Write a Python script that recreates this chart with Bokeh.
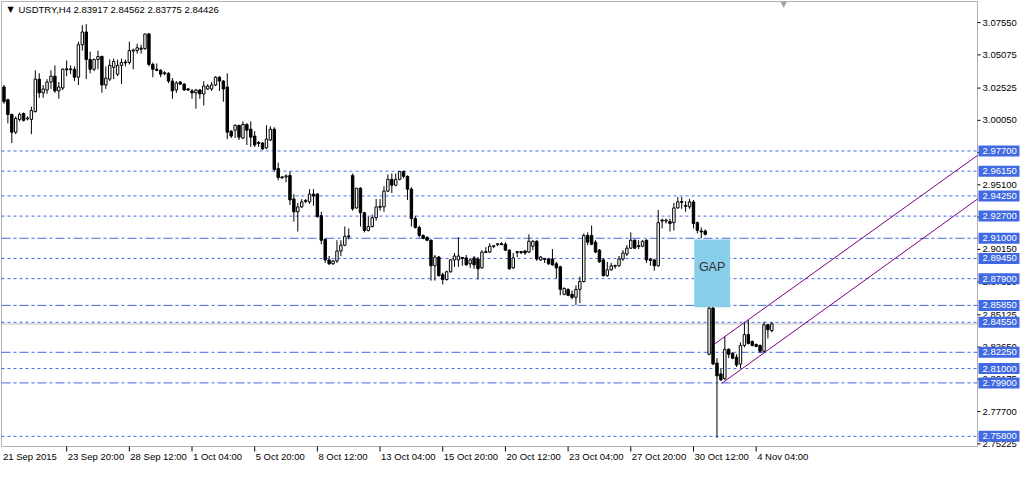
from bokeh.plotting import figure
from bokeh.models import Label, ColumnDataSource, Range1d, BoxAnnotation
from bokeh.core.properties import value
from bokeh.embed import file_html
from bokeh.resources import INLINE

# ---------------- data (USDTRY, H4) ----------------
opens = [3.0261, 3.0163, 3.0050, 2.9914, 3.0012, 3.0057, 3.0016, 3.0012, 3.0072, 3.0321,
         3.0216, 3.0238, 3.0299, 3.0344, 3.0231, 3.0253, 3.0400, 3.0393, 3.0397, 3.0336,
         3.0585, 3.0683, 3.0472, 3.0397, 3.0472, 3.0495, 3.0276, 3.0321, 3.0412, 3.0359,
         3.0427, 3.0453, 3.0449, 3.0536, 3.0540, 3.0559, 3.0555, 3.0668, 3.0434, 3.0397,
         3.0389, 3.0370, 3.0366, 3.0306, 3.0238, 3.0299, 3.0283, 3.0246, 3.0231, 3.0216,
         3.0238, 3.0208, 3.0246, 3.0246, 3.0276, 3.0336, 3.0306, 3.0261, 2.9922, 2.9929,
         2.9967, 2.9869, 2.9974, 2.9937, 2.9884, 2.9835, 2.9831, 2.9793, 2.9854, 2.9937,
         2.9635, 2.9571, 2.9571, 2.9582, 2.9401, 2.9303, 2.9341, 2.9382, 2.9379, 2.9439,
         2.9439, 2.9273, 2.9092, 2.8934, 2.8904, 2.8926, 2.9002, 2.9047, 2.9111, 2.9582,
         2.9333, 2.9484, 2.9296, 2.9160, 2.9190, 2.9258, 2.9337, 2.9341, 2.9462, 2.9552,
         2.9507, 2.9552, 2.9612, 2.9575, 2.9477, 2.9251, 2.9183, 2.9122, 2.9107, 2.9085,
         2.8889, 2.8956, 2.8821, 2.8783, 2.8843, 2.8934, 2.8934, 2.8953, 2.8949, 2.8904,
         2.8949, 2.8941, 2.8873, 2.8990, 2.8994, 2.9036, 2.9051, 2.9058, 2.9054, 2.9009,
         2.8873, 2.8990, 2.8998, 2.9002, 2.8994, 2.9039, 2.9077, 2.8934, 2.8945, 2.8941,
         2.8941, 2.8904, 2.8881, 2.8670, 2.8708, 2.8670, 2.8647, 2.8708, 2.8768, 2.9122,
         2.9122, 2.9070, 2.9009, 2.8934, 2.8813, 2.8858, 2.8885, 2.8889, 2.8941, 2.8979,
         2.9024, 2.9085, 2.9043, 2.9039, 2.9085, 2.8938, 2.8934, 2.8889, 2.9239, 2.9232,
         2.9228, 2.9220, 2.9333, 2.9382, 2.9352, 2.9341, 2.9379, 2.9220, 2.9156, 2.9156,
         2.8210, 2.8564, 2.8142, 2.8059, 2.8022, 2.8248, 2.8218, 2.8187, 2.8135, 2.8278,
         2.8361, 2.8308, 2.8285, 2.8278, 2.8233, 2.8436, 2.83917]
highs = [3.0276, 3.0170, 3.0057, 3.0035, 3.0065, 3.0065, 3.0035, 3.0110, 3.0389, 3.0366,
         3.0276, 3.0321, 3.0389, 3.0427, 3.0299, 3.0404, 3.0464, 3.0427, 3.0419, 3.0608,
         3.0736, 3.0743, 3.0532, 3.0479, 3.0540, 3.0502, 3.0419, 3.0472, 3.0479, 3.0472,
         3.0479, 3.0472, 3.0608, 3.0555, 3.0593, 3.0585, 3.0668, 3.0676, 3.0449, 3.0442,
         3.0397, 3.0382, 3.0374, 3.0329, 3.0306, 3.0306, 3.0291, 3.0253, 3.0246, 3.0246,
         3.0246, 3.0306, 3.0283, 3.0299, 3.0344, 3.0344, 3.0314, 3.0366, 2.9929, 2.9974,
         2.9967, 2.9997, 2.9982, 2.9997, 2.9922, 2.9846, 2.9839, 2.9967, 2.9959, 2.9952,
         2.9680, 2.9575, 2.9590, 2.9612, 2.9439, 2.9371, 2.9401, 2.9401, 2.9477, 2.9477,
         2.9447, 2.9303, 2.9100, 2.8964, 2.8934, 2.9085, 2.9085, 2.9190, 2.9175, 2.9597,
         2.9484, 2.9492, 2.9303, 2.9266, 2.9281, 2.9401, 2.9401, 2.9499, 2.9590, 2.9597,
         2.9597, 2.9612, 2.9620, 2.9582, 2.9492, 2.9273, 2.9198, 2.9130, 2.9115, 2.9092,
         2.8972, 2.8964, 2.8836, 2.8851, 2.8941, 2.8987, 2.9107, 2.8956, 2.8972, 2.8941,
         2.8964, 2.8956, 2.9009, 2.9032, 2.9062, 2.9047, 2.9062, 2.9070, 2.9070, 2.9017,
         2.8987, 2.9002, 2.9002, 2.9009, 2.9130, 2.9085, 2.9085, 2.8964, 2.8949, 2.8949,
         2.9017, 2.8919, 2.8889, 2.8723, 2.8715, 2.8700, 2.8738, 2.8806, 2.9137, 2.9145,
         2.9198, 2.9085, 2.9017, 2.8949, 2.8919, 2.8911, 2.8896, 2.8964, 2.9009, 2.9047,
         2.9145, 2.9092, 2.9085, 2.9085, 2.9092, 2.8949, 2.8941, 2.9318, 2.9251, 2.9251,
         2.9251, 2.9371, 2.9416, 2.9416, 2.9386, 2.9401, 2.9394, 2.9228, 2.9183, 2.9168,
         2.8572, 2.8572, 2.8180, 2.8104, 2.8346, 2.8255, 2.8225, 2.8210, 2.8301, 2.8459,
         2.8474, 2.8315, 2.8293, 2.8285, 2.8459, 2.8444, 2.84562]
lows = [3.0133, 2.9982, 2.9831, 2.9899, 2.9997, 2.9997, 3.0005, 2.9899, 3.0065, 3.0178,
        3.0178, 3.0208, 3.0246, 3.0216, 3.0170, 3.0238, 3.0344, 3.0359, 3.0306, 3.0276,
        3.0540, 3.0321, 3.0366, 3.0382, 3.0397, 3.0216, 3.0246, 3.0306, 3.0321, 3.0344,
        3.0283, 3.0419, 3.0434, 3.0397, 3.0517, 3.0517, 3.0547, 3.0419, 3.0336, 3.0382,
        3.0336, 3.0351, 3.0291, 3.0170, 3.0216, 3.0276, 3.0231, 3.0231, 3.0170, 3.0095,
        3.0170, 3.0118, 3.0238, 3.0231, 3.0268, 3.0231, 3.0148, 2.9861, 2.9869, 2.9869,
        2.9854, 2.9861, 2.9816, 2.9801, 2.9801, 2.9801, 2.9778, 2.9786, 2.9846, 2.9612,
        2.9545, 2.9560, 2.9530, 2.9356, 2.9228, 2.9152, 2.9333, 2.9371, 2.9364, 2.9349,
        2.9258, 2.9054, 2.8911, 2.8896, 2.8896, 2.8911, 2.8964, 2.9039, 2.9092, 2.9311,
        2.9326, 2.9190, 2.9145, 2.9152, 2.9183, 2.9235, 2.9311, 2.9303, 2.9454, 2.9447,
        2.9499, 2.9545, 2.9560, 2.9394, 2.9190, 2.9175, 2.9107, 2.9092, 2.9077, 2.8775,
        2.8775, 2.8806, 2.8745, 2.8775, 2.8836, 2.8881, 2.8881, 2.8889, 2.8889, 2.8873,
        2.8866, 2.8783, 2.8866, 2.8987, 2.8987, 2.9024, 2.9039, 2.9047, 2.9002, 2.8858,
        2.8866, 2.8956, 2.8979, 2.8972, 2.8987, 2.9009, 2.8926, 2.8926, 2.8911, 2.8896,
        2.8889, 2.8791, 2.8662, 2.8662, 2.8655, 2.8632, 2.8587, 2.8602, 2.8760, 2.9047,
        2.9047, 2.8987, 2.8911, 2.8806, 2.8806, 2.8851, 2.8866, 2.8881, 2.8926, 2.8964,
        2.9017, 2.9017, 2.9017, 2.9032, 2.8911, 2.8889, 2.8851, 2.8881, 2.9175, 2.9213,
        2.9152, 2.9160, 2.9326, 2.9326, 2.9303, 2.9326, 2.9175, 2.9137, 2.9100, 2.9122,
        2.8202, 2.8127, 2.7569, 2.8006, 2.8014, 2.8180, 2.8172, 2.8112, 2.8104, 2.8263,
        2.8285, 2.8270, 2.8263, 2.8218, 2.8225, 2.8331, 2.83775]
closes = [3.0148, 3.0050, 2.9914, 3.0020, 3.0050, 3.0005, 3.0023, 3.0080, 3.0321, 3.0216,
          3.0246, 3.0299, 3.0344, 3.0231, 3.0261, 3.0397, 3.0393, 3.0400, 3.0336, 3.0585,
          3.0683, 3.0472, 3.0397, 3.0472, 3.0495, 3.0276, 3.0329, 3.0427, 3.0457, 3.0427,
          3.0449, 3.0446, 3.0540, 3.0544, 3.0562, 3.0551, 3.0668, 3.0434, 3.0397, 3.0389,
          3.0359, 3.0363, 3.0306, 3.0231, 3.0291, 3.0283, 3.0238, 3.0238, 3.0216, 3.0238,
          3.0208, 3.0268, 3.0268, 3.0276, 3.0336, 3.0306, 3.0246, 2.9914, 2.9884, 2.9967,
          2.9876, 2.9974, 2.9929, 2.9876, 2.9816, 2.9827, 2.9786, 2.9861, 2.9937, 2.9628,
          2.9567, 2.9563, 2.9579, 2.9394, 2.9303, 2.9341, 2.9379, 2.9390, 2.9439, 2.9424,
          2.9266, 2.9085, 2.8934, 2.8904, 2.8926, 2.9002, 2.9047, 2.9115, 2.9118, 2.9326,
          2.9484, 2.9296, 2.9160, 2.9190, 2.9258, 2.9341, 2.9345, 2.9462, 2.9552, 2.9507,
          2.9552, 2.9612, 2.9575, 2.9477, 2.9251, 2.9183, 2.9122, 2.9100, 2.9085, 2.8889,
          2.8956, 2.8813, 2.8783, 2.8843, 2.8934, 2.8964, 2.8964, 2.8945, 2.8896, 2.8934,
          2.8896, 2.8866, 2.8994, 2.8998, 2.9039, 2.9043, 2.9058, 2.9051, 2.9009, 2.8866,
          2.8949, 2.8998, 2.8990, 2.8987, 2.9077, 2.9077, 2.8941, 2.8956, 2.8938, 2.8904,
          2.8896, 2.8873, 2.8708, 2.8715, 2.8662, 2.8647, 2.8708, 2.8768, 2.9122, 2.9070,
          2.9054, 2.8994, 2.8919, 2.8813, 2.8858, 2.8889, 2.8892, 2.8941, 2.8987, 2.9024,
          2.9085, 2.9024, 2.9036, 2.9077, 2.8934, 2.8930, 2.8889, 2.9220, 2.9232, 2.9239,
          2.9213, 2.9333, 2.9379, 2.9375, 2.9345, 2.9379, 2.9213, 2.9160, 2.9149, 2.9130,
          2.8564, 2.8135, 2.8044, 2.8014, 2.8248, 2.8210, 2.8180, 2.8127, 2.8278, 2.8361,
          2.8293, 2.8278, 2.8270, 2.8233, 2.8436, 2.8398, 2.84426]

date_ticks = [0, 16, 32, 48, 64, 80, 96, 112, 128, 144, 160, 176, 192]
date_labels = ["21 Sep 2015", "23 Sep 20:00", "28 Sep 12:00", "1 Oct 04:00", "5 Oct 20:00",
               "8 Oct 12:00", "13 Oct 04:00", "15 Oct 20:00", "20 Oct 12:00", "23 Oct 04:00",
               "27 Oct 20:00", "30 Oct 12:00", "4 Nov 04:00"]

price_ticks = [3.0755, 3.05075, 3.02525, 3.0005, 2.97575, 2.951, 2.92625, 2.9015,
               2.8765, 2.85125, 2.8265, 2.80175, 2.777, 2.75225]

level_prices = [2.9770, 2.9615, 2.9425, 2.9270, 2.9100, 2.8945, 2.8790, 2.8585,
                2.8455, 2.8225, 2.8100, 2.7990, 2.7580]
level_styles = ["dot", "dot", "dot", "dot", "dashdot", "dot", "dot", "dashdot",
                "dot", "dashdot", "dot", "dashdot", "dot"]

gap_bars = [176.2, 185.3]
gap_prices = [2.8570, 2.9090]

upper_x = [181.2, 248.5]
upper_y = [2.8285, 2.9736]
lower_x = [183.2, 248.5]
lower_y = [2.7986, 2.9401]

symbol = "USDTRY,H4"

# ---------------- geometry (pixels inside the figure) ----------------
W, H = 1020, 462
CL, CR, CT, CB = 1, 977, 1, 446          # chart window edges
X0, X1 = -0.63, 248.5                     # visible bars
Y0, Y1 = 2.7502, 3.0917                   # visible prices
BPX = (X1 - X0) / (CR - CL)               # bars per pixel
PPX = (Y1 - Y0) / (CB - CT)               # price per pixel
FONT = "Liberation Sans"
BLUE = "#4169E1"

p = figure(width=W, height=H,
           x_range=Range1d(X0 - CL * BPX, X1 + (W - CR) * BPX),
           y_range=Range1d(Y0 - (H - CB) * PPX, Y1 + CT * PPX),
           x_axis_type=None, y_axis_type=None,
           output_backend="svg", toolbar_location=None,
           min_border=0, background_fill_color="white", border_fill_color="white")
p.grid.visible = False
p.outline_line_color = None

# horizontal levels
dashes = {"dot": "3 3", "dashdot": "9 3 3 3"}
for st in ("dot", "dashdot"):
    ys = [pr for pr, s in zip(level_prices, level_styles) if s == st]
    p.segment(x0=[X0] * len(ys), x1=[X1] * len(ys), y0=ys, y1=ys,
              line_color=BLUE, line_width=1, line_dash=dashes[st])
# bid line
p.segment(x0=[X0], x1=[X1], y0=[closes[-1]], y1=[closes[-1]], line_color="#C0C0C0", line_width=1)

# gap box
p.quad(left=[gap_bars[0]], right=[gap_bars[1]], bottom=[gap_prices[0]], top=[gap_prices[1]],
       fill_color="#87CEEB", line_color=None)
p.text(x=[(gap_bars[0] + gap_bars[1]) / 2], y=[(gap_prices[0] + gap_prices[1]) / 2 + 6 * PPX],
       text=["GAP"], text_align="center", text_baseline="middle",
       text_font=value(FONT), text_font_size="12.5px", text_color="#333333")

# candles
idx = list(range(len(opens)))
src = ColumnDataSource(dict(
    x=idx, h=highs, l=lows,
    top=[max(o, c) for o, c in zip(opens, closes)],
    bottom=[min(o, c) for o, c in zip(opens, closes)],
    fill=["white" if c >= o else "black" for o, c in zip(opens, closes)],
))
p.segment(x0="x", y0="h", x1="x", y1="l", source=src, line_color="black", line_width=1)
p.vbar(x="x", width=0.62, top="top", bottom="bottom", fill_color="fill",
       line_color="black", line_width=1, source=src)

# channel
p.line(upper_x, upper_y, line_color="#800080", line_width=1)
p.line(lower_x, lower_y, line_color="#800080", line_width=1)

# chart window border
p.add_layout(BoxAnnotation(left=X0, right=X1, bottom=Y0, top=Y1, fill_color=None,
                           line_color="black", line_width=1))

# price scale: ticks + labels
n = len(price_ticks)
p.segment(x0=[X1] * n, x1=[X1 + 3 * BPX] * n, y0=price_ticks, y1=price_ticks,
          line_color="black", line_width=1)
p.text(x=[X1 + 5 * BPX] * n, y=price_ticks, text=["%.5f" % t for t in price_ticks],
       text_align="left", text_baseline="middle", text_font=value(FONT),
       text_font_size="9.5px", text_color="black")

# price tags
m = len(level_prices)
p.quad(left=[X1 + 1 * BPX] * m, right=[X1 + 42 * BPX] * m,
       bottom=[pr - 5.5 * PPX for pr in level_prices], top=[pr + 5.5 * PPX for pr in level_prices],
       fill_color=BLUE, line_color=None)
p.text(x=[X1 + 5 * BPX] * m, y=level_prices, text=["%.5f" % pr for pr in level_prices],
       text_align="left", text_baseline="middle", text_font=value(FONT),
       text_font_size="9.5px", text_color="white")

# time scale: ticks + labels
k = len(date_ticks) - 1
p.segment(x0=date_ticks[1:], x1=date_ticks[1:], y0=[Y0] * k, y1=[Y0 - 5 * PPX] * k,
          line_color="black", line_width=1)
p.text(x=[t + (1 if t else -1) * BPX for t in date_ticks], y=[Y0 - 10 * PPX] * len(date_ticks),
       text=date_labels, text_align="left", text_baseline="middle", text_font=value(FONT),
       text_font_size="9.5px", text_color="black")

# title
p.add_layout(Label(x=X0, y=Y1, x_offset=6, y_offset=-8, text="\u25BC", text_align="left",
                   text_baseline="middle", text_font="DejaVu Sans", text_font_size="8px",
                   text_color="black"))
title = "%s  %.5f %.5f %.5f %.5f" % (symbol, opens[-1], highs[-1], lows[-1], closes[-1])
p.add_layout(Label(x=X0, y=Y1, x_offset=17, y_offset=-8, text=title, text_align="left",
                   text_baseline="middle", text_font=FONT, text_font_size="9.5px",
                   text_color="black"))
# chart shift marker
p.add_layout(Label(x=199.0, y=Y1, y_offset=-3, text="\u25BC", text_align="center",
                   text_baseline="middle", text_font="DejaVu Sans", text_font_size="8px",
                   text_color="#A0A0A0"))

open("out.html", "w").write(file_html(p, INLINE))
